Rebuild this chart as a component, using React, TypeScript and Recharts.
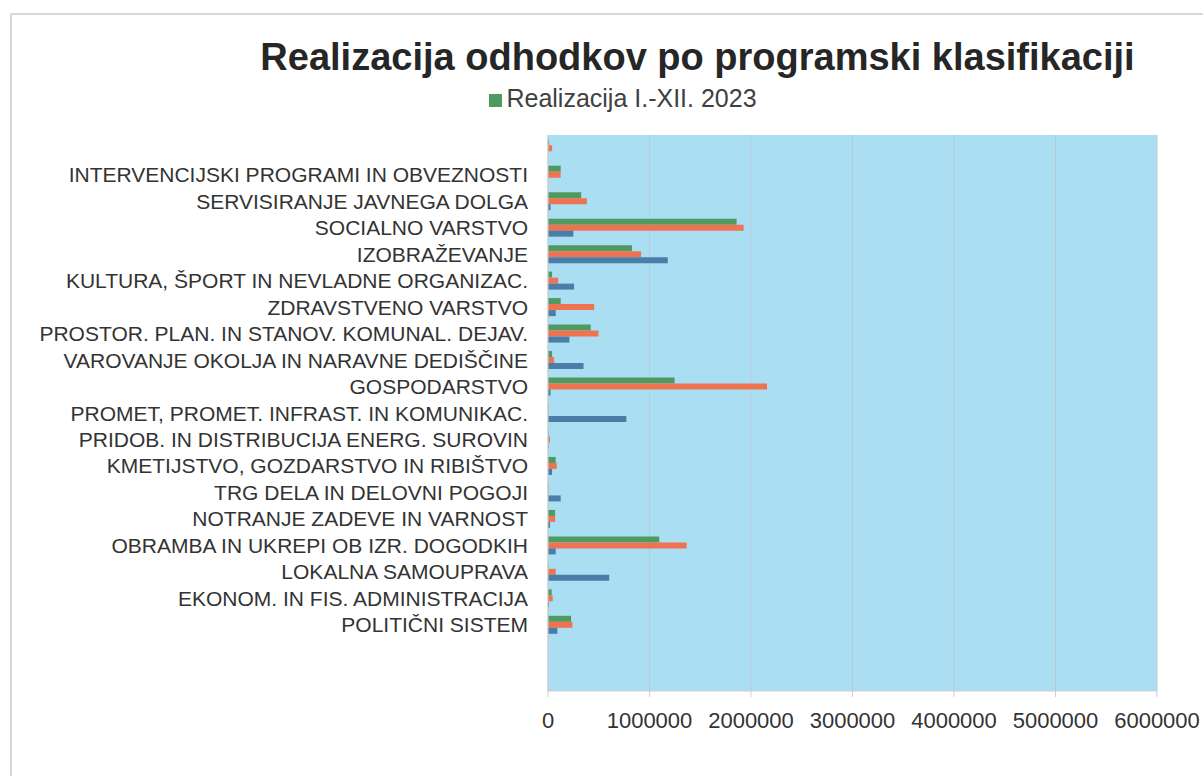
import React from "react";
import {
  BarChart,
  Bar,
  XAxis,
  YAxis,
  CartesianGrid,
  Legend,
} from "recharts";

const categories: string[] = [
  " ",
  "INTERVENCIJSKI PROGRAMI IN OBVEZNOSTI",
  "SERVISIRANJE JAVNEGA DOLGA",
  "SOCIALNO VARSTVO",
  "IZOBRAŽEVANJE",
  "KULTURA, ŠPORT IN NEVLADNE ORGANIZAC.",
  "ZDRAVSTVENO VARSTVO",
  "PROSTOR. PLAN. IN STANOV. KOMUNAL. DEJAV.",
  "VAROVANJE OKOLJA IN NARAVNE DEDIŠČINE",
  "GOSPODARSTVO",
  "PROMET, PROMET. INFRAST. IN KOMUNIKAC.",
  "PRIDOB. IN DISTRIBUCIJA ENERG. SUROVIN",
  "KMETIJSTVO, GOZDARSTVO IN RIBIŠTVO",
  "TRG DELA IN DELOVNI POGOJI",
  "NOTRANJE ZADEVE IN VARNOST",
  "OBRAMBA IN UKREPI OB IZR. DOGODKIH",
  "LOKALNA SAMOUPRAVA",
  "EKONOM. IN FIS. ADMINISTRACIJA",
  "POLITIČNI SISTEM",
  "  ",
  "   ",
];

const greenValues: number[] = [
  10000, 125000, 327000, 1858000, 828000, 40000, 125000, 421000, 40000,
  1247000, 5000, 5000, 76000, 5000, 70000, 1096000, 5000, 36000, 227000, 0, 0,
];

const orangeValues: number[] = [
  40000, 125000, 383000, 1927000, 917000, 100000, 455000, 497000, 60000,
  2158000, 5000, 20000, 86000, 5000, 70000, 1366000, 76000, 46000, 240000, 0, 0,
];

const blueValues: number[] = [
  0, 0, 25000, 250000, 1180000, 257000, 76000, 211000, 350000, 25000, 772000,
  5000, 40000, 125000, 20000, 76000, 603000, 10000, 92000, 0, 0,
];

const xTicks: number[] = [0, 1000000, 2000000, 3000000, 4000000, 5000000, 6000000];

const title = "Realizacija odhodkov po programski klasifikaciji";
const legendLabel = "Realizacija I.-XII. 2023";

const data = categories.map((name, i) => ({
  name,
  green: greenValues[i],
  orange: orangeValues[i],
  blue: blueValues[i],
}));

const FONT = "'Liberation Sans', Arial, sans-serif";

const CategoryTick = (props: any) => {
  const { x, y, payload } = props;
  return (
    <g>
      <text
        x={x - 12}
        y={y}
        textAnchor="end"
        dominantBaseline="central"
        fontFamily={FONT}
        fontSize={21}
        fill="#333333"
      >
        {payload.value}
      </text>
    </g>
  );
};

export default function App() {
  return (
    <div
      style={{
        position: "absolute",
        left: 0,
        top: 0,
        width: 1203,
        height: 776,
        background: "#ffffff",
        fontFamily: FONT,
      }}
    >
      <div
        style={{
          position: "absolute",
          left: 10,
          top: 13,
          width: 1193,
          height: 763,
          borderTop: "2px solid #d8d8d8",
          borderLeft: "2px solid #d8d8d8",
        }}
      />
      <div
        style={{
          position: "absolute",
          left: 0,
          width: 1203,
          top: 38,
          textAlign: "center",
          paddingLeft: 192,
          boxSizing: "border-box",
          fontSize: 38,
          lineHeight: "38px",
          fontWeight: 700,
          color: "#262626",
          fontFamily: FONT,
          whiteSpace: "nowrap",
        }}
      >
        {title}
      </div>
      <div style={{ position: "absolute", left: 0, top: 0 }}>
        <BarChart
          width={1203}
          height={776}
          data={data}
          layout="vertical"
          margin={{ top: 135, right: 46, bottom: 45, left: 0 }}
          barCategoryGap="16%"
          barGap={0}
        >
          <CartesianGrid
            horizontal={false}
            stroke="#b9ccd4"
            fill="#a9def3"
            fillOpacity={1}
          />
          <XAxis
            type="number"
            domain={[0, 6000000]}
            ticks={xTicks}
            interval={0}
            height={40}
            tickSize={6}
            tickMargin={15}
            axisLine={{ stroke: "#cfcfcf" }}
            tickLine={{ stroke: "#cfcfcf" }}
            tick={{ fontFamily: FONT, fontSize: 22, fill: "#333333" }}
          />
          <YAxis
            type="category"
            dataKey="name"
            width={548}
            interval={0}
            axisLine={{ stroke: "#cfcfcf" }}
            tickLine={false}
            tick={<CategoryTick />}
          />
          <Legend
            verticalAlign="middle"
            align="center"
            layout="horizontal"
            iconType="square"
            iconSize={13}
            wrapperStyle={{
              top: 84,
              left: 428,
              width: 400,
              fontFamily: FONT,
              fontSize: 25,
              color: "#404040",
            }}
            formatter={(value: string) => (
              <span style={{ color: "#404040" }}>{value}</span>
            )}
          />
          <Bar
            dataKey="green"
            name={legendLabel}
            fill="#4f9a60"
            isAnimationActive={false}
          />
          <Bar
            dataKey="orange"
            name="orange"
            fill="#ee7350"
            legendType="none"
            isAnimationActive={false}
          />
          <Bar
            dataKey="blue"
            name="blue"
            fill="#4a7ea8"
            legendType="none"
            isAnimationActive={false}
          />
        </BarChart>
      </div>
    </div>
  );
}
